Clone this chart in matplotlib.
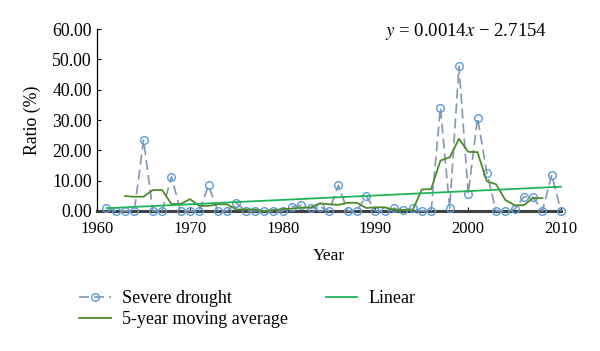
import matplotlib
matplotlib.use("Agg")
import matplotlib.pyplot as plt

years = list(range(1961, 2011))
severe = [1.0, 0, 0, 0, 23.4, 0, 0, 11.3, 0, 0,
          0, 8.4, 0, 0, 2.6, 0, 0, 0, 0, 0,
          1.4, 1.8, 0.9, 1.4, 0, 8.5, 0, 0, 5.0, 0,
          0, 0.9, 0.3, 0.9, 0, 0, 34.1, 0.9, 47.8, 5.6,
          30.8, 12.6, 0, 0, 0.5, 4.7, 4.5, 0, 11.9, 0]

ma_years = list(range(1963, 2009))
ma_values = [4.9, 4.7, 4.7, 6.9, 6.9, 2.3, 2.3, 3.9, 1.7, 1.7,
             2.2, 2.2, 0.5, 0.5, 0.5, 0.0, 0.3, 0.6, 0.8, 1.1,
             1.1, 2.5, 2.2, 2.0, 2.7, 2.7, 1.0, 1.2, 1.2, 0.4,
             0.4, 0.2, 7.1, 7.2, 16.6, 17.7, 23.8, 19.5, 19.4, 9.8,
             8.8, 3.6, 1.9, 1.9, 4.3, 4.2]

trend_years = [1961, 2010]
trend_values = [0.9, 8.0]

yticks = [0, 10, 20, 30, 40, 50, 60]
xticks = [1960, 1970, 1980, 1990, 2000, 2010]

plt.rcParams['font.family'] = ['Liberation Serif', 'DejaVu Serif']
plt.rcParams['mathtext.fontset'] = 'stix'

fig = plt.figure(figsize=(6.0, 3.51), dpi=100)
ax = fig.add_axes([0.162, 0.399, 0.773, 0.518])

l1, = ax.plot(years, severe, color='#8496b0', lw=1.2, dashes=(6, 3),
              marker='o', markersize=5.5, markerfacecolor='none',
              markeredgecolor='#5b9bd5', markeredgewidth=1.0,
              label='Severe drought', zorder=3)
l2, = ax.plot(ma_years, ma_values, color='#4e8a2a', lw=1.3,
              label='5-year moving average', zorder=4)
l3, = ax.plot(trend_years, trend_values, color='#1fb45a', lw=1.3,
              label='Linear', zorder=5)

ax.set_xlim(1960, 2010)
ax.set_ylim(0, 60)
ax.set_xticks(xticks)
ax.set_yticks(yticks)
ax.set_yticklabels([f"{v:.2f}" for v in yticks])
ax.tick_params(direction='in', length=3, width=0.8)
ax.tick_params(axis='x', labelsize=12, pad=7)
ax.tick_params(axis='y', labelsize=12.8, pad=4)
for s in ['top', 'right']:
    ax.spines[s].set_visible(False)
ax.spines['left'].set_linewidth(0.9)
ax.spines['bottom'].set_linewidth(2.2)
ax.spines['bottom'].set_color('#404040')
for ln in (l1, l2, l3):
    ln.set_clip_on(False)

ax.set_xlabel('Year', fontsize=12.5, labelpad=8)
ax.set_ylabel('Ratio (%)', fontsize=12.8, labelpad=8)

fig.text(547 / 600, 1 - 31 / 351, r'$y$ = 0.0014$x$ − 2.7154',
         ha='right', va='center', fontsize=13.5)

fig.legend(handles=[l1, l2, l3], ncol=2, loc='upper left',
           bbox_to_anchor=(0.111, 0.209), frameon=False, fontsize=13,
           handlelength=1.75, handletextpad=0.6, columnspacing=2.1,
           labelspacing=0.2, borderpad=0.2)

fig.savefig('out.png', dpi=100)
